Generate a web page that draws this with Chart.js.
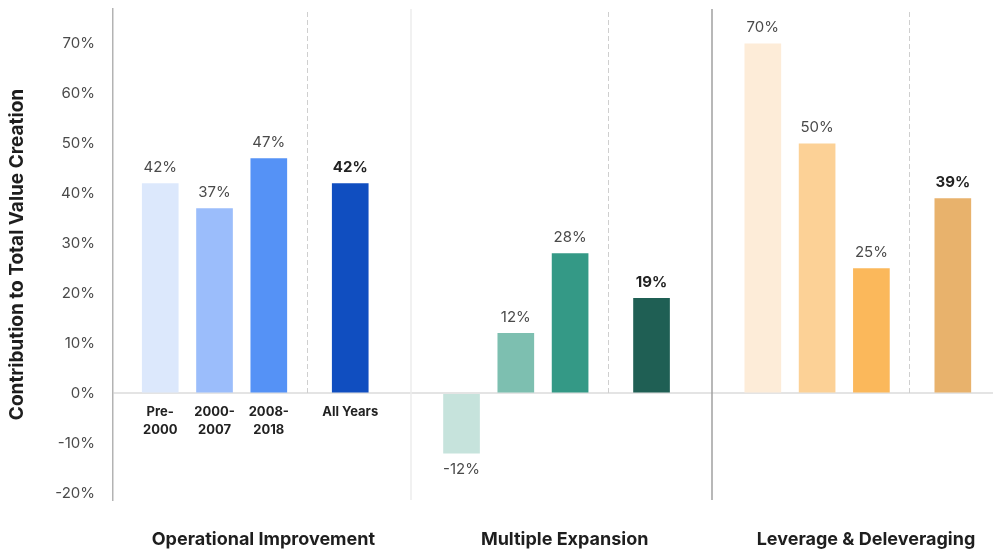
<!DOCTYPE html>
<html lang="en">
<head>
    <meta charset="UTF-8">
    <title>Contribution to Total Value Creation</title>
    <script src="https://cdn.jsdelivr.net/npm/chart.js"></script>
    <style>
        html, body { margin: 0; padding: 0; background: #fff; }
        #wrap { width: 993px; height: 554px; position: relative; }
    </style>
</head>
<body>
    <div id="wrap"><canvas id="valueChart"></canvas></div>

    <script>
        const groups = ['Operational Improvement', 'Multiple Expansion', 'Leverage & Deleveraging'];
        const periods = ['Pre-2000', '2000-2007', '2008-2018', 'All Years'];
        const operationalImprovement = [42, 37, 47, 42];
        const multipleExpansion = [-12, 12, 28, 19];
        const leverageDeleveraging = [70, 50, 25, 39];
        const yTicks = [-20, -10, 0, 10, 20, 30, 40, 50, 60, 70];

        const groupValues = [operationalImprovement, multipleExpansion, leverageDeleveraging];
        const palettes = [
            ['#dce8fc', '#9bbdfb', '#5592f6', '#104ec0'],
            ['#c6e3dc', '#7dbfb0', '#349986', '#1f5f54'],
            ['#fdecd8', '#fcd196', '#fbb85b', '#e8b26c']
        ];

        // slot layout: three periods side by side, "All Years" set apart by half a slot
        const SLOT = [0, 1, 2, 3.5];
        const GROUP_PITCH = 5.55;
        const FONT = 'Inter, "Open Sans", sans-serif';

        const datasets = groups.map((g, gi) => ({
            label: g,
            data: groupValues[gi].map((v, i) => ({ x: gi * GROUP_PITCH + SLOT[i], y: v })),
            backgroundColor: palettes[gi],
            borderWidth: 0,
            barThickness: 36,
            grouped: false
        }));

        const overlay = {
            id: 'overlay',
            beforeDatasetsDraw(chart) {
                const { ctx, chartArea, scales: { x, y } } = chart;
                const zero = y.getPixelForValue(0);
                ctx.save();
                groups.forEach((g, gi) => {
                    const start = gi * GROUP_PITCH;
                    // dashed line before "All Years"
                    const dx = Math.round(x.getPixelForValue(start + 2.7)) + 0.5;
                    ctx.strokeStyle = '#cfcfcf';
                    ctx.lineWidth = 1;
                    ctx.setLineDash([5, 3]);
                    ctx.beginPath();
                    ctx.moveTo(dx, chartArea.top + 3);
                    ctx.lineTo(dx, zero);
                    ctx.stroke();
                    ctx.setLineDash([]);
                    // divider between groups
                    if (gi < groups.length - 1) {
                        const sx = Math.round(x.getPixelForValue(start + 4.62));
                        ctx.strokeStyle = gi === 0 ? '#ececec' : '#a0a0a0';
                        ctx.lineWidth = 1.5;
                        ctx.beginPath();
                        ctx.moveTo(sx, chartArea.top);
                        ctx.lineTo(sx, chartArea.bottom);
                        ctx.stroke();
                    }
                });
                ctx.restore();
            },
            afterDatasetsDraw(chart) {
                const { ctx, scales: { x, y } } = chart;
                const zero = y.getPixelForValue(0);
                ctx.save();
                ctx.textAlign = 'center';
                ctx.textBaseline = 'middle';

                // value labels
                groupValues.forEach((vals, gi) => {
                    vals.forEach((v, i) => {
                        const px = x.getPixelForValue(gi * GROUP_PITCH + SLOT[i]);
                        const py = y.getPixelForValue(v) + (v >= 0 ? -16 : 16);
                        const total = i === SLOT.length - 1;
                        ctx.font = (total ? 'bold ' : '') + '15px ' + FONT;
                        ctx.fillStyle = total ? '#222' : '#4a4a4a';
                        ctx.fillText(v + '%', px, py);
                    });
                });

                // period labels under the first group only
                ctx.font = 'bold 13px ' + FONT;
                ctx.fillStyle = '#222';
                periods.forEach((p, i) => {
                    const px = x.getPixelForValue(SLOT[i]);
                    const lines = p.includes('-') ? [p.split('-')[0] + '-', p.split('-')[1]] : [p];
                    lines.forEach((line, li) => ctx.fillText(line, px, zero + 19 + li * 18));
                });

                // group titles
                ctx.font = 'bold 18px ' + FONT;
                ctx.fillStyle = '#1e1e1e';
                groups.forEach((g, gi) => {
                    ctx.fillText(g, x.getPixelForValue(gi * GROUP_PITCH + 1.9), 540);
                });
                ctx.restore();
            }
        };

        new Chart(document.getElementById('valueChart'), {
            type: 'bar',
            data: { datasets },
            options: {
                responsive: true,
                maintainAspectRatio: false,
                animation: false,
                layout: { padding: { top: 9, bottom: 54, left: 0, right: 0 } },
                plugins: {
                    legend: { display: false },
                    tooltip: { enabled: false }
                },
                scales: {
                    x: {
                        type: 'linear',
                        min: -0.87,
                        max: 15.34,
                        offset: false,
                        display: false
                    },
                    y: {
                        min: -21.4,
                        max: 77,
                        afterFit(scale) {
                            scale.width = 113;
                            scale.paddingTop = 0;
                            scale.paddingBottom = 0;
                        },
                        afterBuildTicks(scale) { scale.ticks = yTicks.map(v => ({ value: v })); },
                        border: { color: '#b3b3b3', width: 1.5 },
                        grid: {
                            drawTicks: false,
                            lineWidth: 2,
                            color: c => (c.tick && c.tick.value === 0 ? '#e4e4e4' : 'transparent')
                        },
                        ticks: {
                            padding: 18,
                            color: '#4a4a4a',
                            font: { family: FONT, size: 15 },
                            callback: v => v + '%'
                        },
                        title: {
                            display: true,
                            text: 'Contribution to Total Value Creation',
                            color: '#1e1e1e',
                            font: { family: FONT, size: 19, weight: 'bold' },
                            padding: { top: 6, bottom: 0 }
                        }
                    }
                }
            },
            plugins: [overlay]
        });
    </script>
</body>
</html>
